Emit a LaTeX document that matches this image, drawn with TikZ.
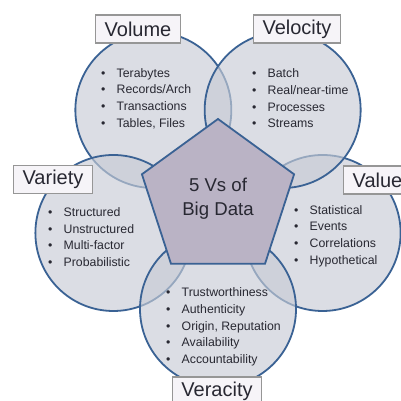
\documentclass[tikz,border=0pt]{standalone}
\usepackage{fontspec}
\setmainfont{Liberation Sans}
\usepackage{xcolor}
\usetikzlibrary{shapes.geometric}

\definecolor{rimblue}{RGB}{58,98,148}
\definecolor{discfill}{RGB}{200,204,214}
\definecolor{pentfill}{RGB}{186,179,197}
\definecolor{tagfill}{RGB}{246,244,248}
\definecolor{tagrim}{RGB}{150,150,150}
\definecolor{inktext}{RGB}{40,40,50}
\newcommand{\vitem}[1]{\makebox[15.5pt][l]{\textbullet}#1}

\tikzset{
vdisc/.style={circle,draw=rimblue,line width=1.8pt,fill=discfill,fill opacity=0.65,minimum size=156pt,inner sep=0pt},
vlist/.style={anchor=west,align=left,inner sep=0pt,text=inktext,font=\fontsize{12.3}{16.7}\selectfont},
vtag/.style={draw=tagrim,line width=1.2pt,fill=tagfill,inner xsep=9pt,inner ysep=0pt,minimum height=28pt,text=inktext,font=\fontsize{20}{22}\selectfont}
}

\begin{document}
\begin{tikzpicture}[x=1pt,y=1pt]
\useasboundingbox (0,0) rectangle (401,401);
\clip (0,0) rectangle (401,401);
\fill[white] (0,0) rectangle (401,401);
\begin{scope}[shift={(218,202)}]
\node[vdisc] (volume) at (126:110) {};
\node[vdisc] (value) at (-18:110) {};
\node[vdisc] (velocity) at (54:110) {};
\node[vdisc] (variety) at (198:110) {};
\node[vdisc] (veracity) at (-90:110) {};
\node[regular polygon,regular polygon sides=5,minimum size=160pt,inner sep=0pt,
draw=rimblue,line width=1.8pt,fill=pentfill,align=center,text=inktext,
font=\fontsize{18.6}{24}\selectfont] (core) at (0,0) {5 Vs of\\Big Data};
\end{scope}
% bullet lists
\node[vlist] (volumelist) at (101,302.5) {\vitem{Terabytes}\\\vitem{Records/Arch}\\\vitem{Transactions}\\\vitem{Tables, Files}};
\node[vlist] (velocitylist) at (252,302.5) {\vitem{Batch}\\\vitem{Real/near-time}\\\vitem{Processes}\\\vitem{Streams}};
\node[vlist] (varietylist) at (48,164) {\vitem{Structured}\\\vitem{Unstructured}\\\vitem{Multi-factor}\\\vitem{Probabilistic}};
\node[vlist] (valuelist) at (294,165) {\vitem{Statistical}\\\vitem{Events}\\\vitem{Correlations}\\\vitem{Hypothetical}};
\node[vlist] (veracitylist) at (166,74) {\vitem{Trustworthiness}\\\vitem{Authenticity}\\\vitem{Origin, Reputation}\\\vitem{Availability}\\\vitem{Accountability}};
% labels
\node[vtag] (volumetag) at (138,372) {Volume};
\node[vtag] (velocitytag) at (297,372) {Velocity};
\node[vtag] (varietytag) at (53,221.5) {Variety};
\node[vtag] (valuetag) at (377.5,221) {Value};
\node[vtag] (veracitytag) at (217,10) {Veracity};
\end{tikzpicture}
\end{document}
